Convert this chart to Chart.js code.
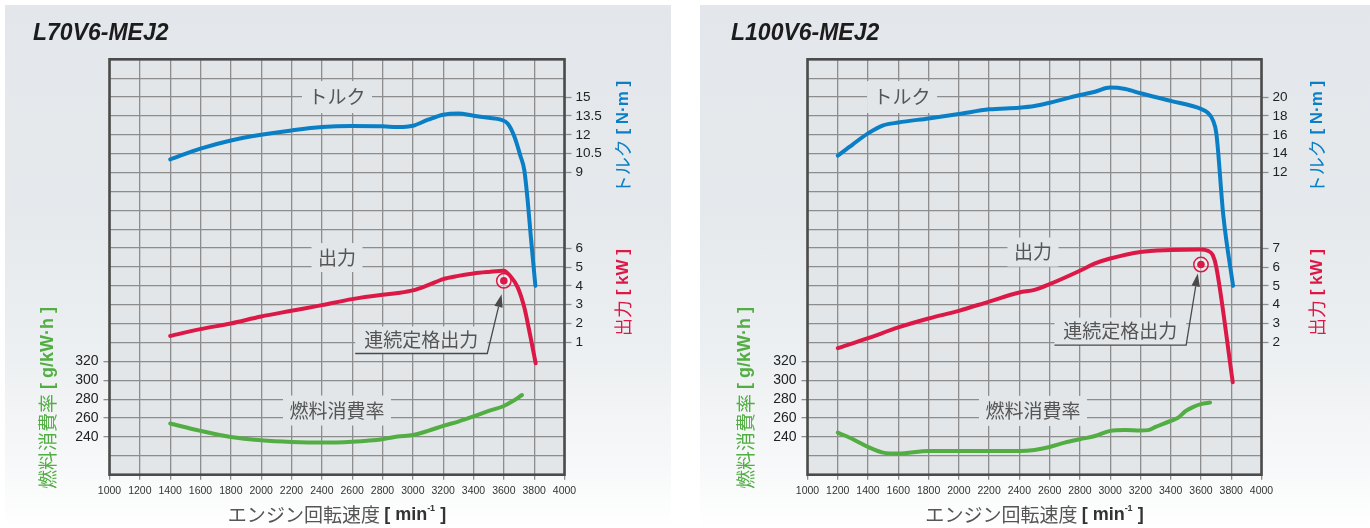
<!DOCTYPE html>
<html lang="ja">
<head>
<meta charset="utf-8">
<title>L70V6-MEJ2 / L100V6-MEJ2</title>
<script src="https://cdn.jsdelivr.net/npm/chart.js@4.4.1/dist/chart.umd.min.js"></script>
<style>
  html, body { margin:0; padding:0; background:#ffffff; }
  body { width:1370px; height:528px; position:relative; overflow:hidden; }
  .panel { position:absolute; top:5px; height:523px;
    background: linear-gradient(to bottom, #e3e7eb 0%, #e6e9ec 40%, #edf0f2 68%, #f7f8f9 88%, #ffffff 100%); }
  #panelA { left:5px; width:666px; }
  #panelB { left:700px; width:670px; }
  .chartbox { position:absolute; top:0; width:685px; height:528px; }
  #boxA { left:0; }
  #boxB { left:685px; }
</style>
</head>
<body>
<div class="panel" id="panelA"></div>
<div class="panel" id="panelB"></div>
<div class="chartbox" id="boxA"><canvas id="chartA" width="685" height="528"></canvas></div>
<div class="chartbox" id="boxB"><canvas id="chartB" width="685" height="528"></canvas></div>
<script>
// ---------------- data ----------------
const RPM_TICKS  = [1000,1200,1400,1600,1800,2000,2200,2400,2600,2800,3000,3200,3400,3600,3800,4000];
const FUEL_TICKS = [240,260,280,300,320];

// L70V6-MEJ2
const L70_TORQUE_RPM = [1400,1600,1800,2000,2200,2400,2600,2800,2900,3000,3100,3200,3300,3400,3500,3580,3625,3670,3710,3735,3757,3778,3808];
const L70_TORQUE_NM  = [10.05,10.9,11.55,12.0,12.35,12.62,12.7,12.68,12.62,12.72,13.2,13.6,13.7,13.52,13.35,13.2,12.9,11.85,10.3,9.2,6.8,3.9,0];
const L70_POWER_RPM  = [1400,1600,1800,2000,2200,2400,2600,2800,2900,3000,3100,3200,3300,3400,3500,3600,3646,3690,3734,3767,3810];
const L70_POWER_KW   = [1.35,1.71,2.01,2.38,2.68,2.98,3.3,3.53,3.62,3.76,4.04,4.36,4.53,4.66,4.74,4.8,4.48,3.95,2.89,1.65,-0.1];
const L70_FUEL_RPM   = [1400,1600,1800,2000,2200,2400,2600,2800,2900,3000,3100,3200,3300,3400,3500,3600,3660,3720];
const L70_FUEL_G     = [254.2,246.4,240,236.5,234.7,234,235,237.6,240.4,242.1,246.4,251.7,256.3,261.7,267.6,272.8,278,284.4];
const L70_RATED_RPM  = [3600];
const L70_RATED_KW   = [4.27];
const L70_TORQUE_TICKS = [9,10.5,12,13.5,15];
const L70_POWER_TICKS  = [1,2,3,4,5,6];

// L100V6-MEJ2
const L100_TORQUE_RPM = [1200,1300,1400,1500,1600,1800,2000,2200,2400,2500,2600,2800,2900,3000,3100,3200,3400,3600,3640,3680,3702,3748,3812];
const L100_TORQUE_NM  = [13.8,15.0,16.15,17.0,17.3,17.74,18.2,18.7,18.87,19.05,19.4,20.22,20.57,21.0,20.85,20.4,19.6,18.75,18.4,17.5,16.1,7.4,0];
const L100_POWER_RPM  = [1200,1400,1600,1800,2000,2200,2400,2500,2600,2800,2900,3000,3200,3400,3600,3645,3678,3701,3810];
const L100_POWER_KW   = [1.7,2.23,2.8,3.27,3.68,4.17,4.65,4.79,5.09,5.8,6.19,6.45,6.8,6.9,6.93,6.86,6.63,6.01,-0.1];
const L100_FUEL_RPM   = [1200,1300,1400,1500,1600,1800,2000,2200,2400,2500,2600,2700,2800,2900,3000,3100,3200,3250,3300,3400,3450,3500,3550,3600,3660];
const L100_FUEL_G     = [244.6,237.6,229.4,223.4,222.4,225.2,225,225,225,226.2,229.4,234,237.6,241,246.4,247.4,246.8,247.2,250.6,257,260.5,267.6,271.8,274.7,276.4];
const L100_RATED_RPM  = [3600];
const L100_RATED_KW   = [6.13];
const L100_TORQUE_TICKS = [12,14,16,18,20];
const L100_POWER_TICKS  = [2,3,4,5,6,7];

// ---------------- styles ----------------
const PLOT_BG = '#e2e6e9';
const GRID    = '#8d8d8d';
const FRAME   = '#4b4b4b';
const LABEL   = '#555555';
const BLUE    = '#0a7fc6';
const RED     = '#dc1847';
const GREEN   = '#52ae43';
const CJK = '"Noto Sans CJK JP", "Noto Sans", sans-serif';
const LAT = '"Liberation Sans", Arial, sans-serif';
const CANVAS_H = 528;

Chart.defaults.font.family = LAT;

const SPEC_A = {
  canvas: 'chartA', title: 'L70V6-MEJ2', titleX: 33,
  area: { left: 109.5, right: 564.5, top: 59.3, bottom: 474.7 },
  torque: { rpm: L70_TORQUE_RPM, val: L70_TORQUE_NM, min: -15, max: 18, step: 1.5, ticks: L70_TORQUE_TICKS },
  power:  { rpm: L70_POWER_RPM,  val: L70_POWER_KW,  min: -6,  max: 16, step: 1,   ticks: L70_POWER_TICKS },
  fuel:   { rpm: L70_FUEL_RPM,   val: L70_FUEL_G,    min: 200, max: 640, step: 20, ticks: FUEL_TICKS },
  rated:  { rpm: L70_RATED_RPM, kw: L70_RATED_KW },
  labels: { torque: [2500, 15], power: [2500, 5.5], fuel: [2500, 268] },
  callout: { text: '連続定格出力', tx: 3056, ty: 1.12, x0: 2620, x1: 3491, top: 1.85, line: 0.42, tipX: 3585, tipY: 3.56 },
  titles: { fuelX: 48, rightX: 623.5, torqueY: 137, powerY: 292.5, fuelY: 398, xY: 515 }
};
const SPEC_B = {
  canvas: 'chartB', title: 'L100V6-MEJ2', titleX: 46,
  area: { left: 122.5, right: 576.5, top: 59.3, bottom: 474.7 },
  torque: { rpm: L100_TORQUE_RPM, val: L100_TORQUE_NM, min: -20, max: 24, step: 2, ticks: L100_TORQUE_TICKS },
  power:  { rpm: L100_POWER_RPM,  val: L100_POWER_KW,  min: -5,  max: 17, step: 1, ticks: L100_POWER_TICKS },
  fuel:   { rpm: L100_FUEL_RPM,   val: L100_FUEL_G,    min: 200, max: 640, step: 20, ticks: FUEL_TICKS },
  rated:  { rpm: L100_RATED_RPM, kw: L100_RATED_KW },
  labels: { torque: [1625, 20], power: [2490, 6.79], fuel: [2490, 267.6] },
  callout: { text: '連続定格出力', tx: 3067, ty: 2.61, x0: 2632, x1: 3502, top: 3.32, line: 1.86, tipX: 3579, tipY: 5.66 },
  titles: { fuelX: 60.5, rightX: 632.4, torqueY: 137, powerY: 292.5, fuelY: 398, xY: 515 }
};

// ---------------- helpers ----------------
const pickLabel = (arr) => function (v) {
  const m = arr.find(a => Math.abs(a - v) < 1e-6);
  return m === undefined ? '' : String(m);
};
const tickColorIfLabel = (ctx) => (ctx.tick && ctx.tick.label) ? GRID : 'rgba(0,0,0,0)';
const pts = (xs, ys) => xs.map((x, i) => ({ x: x, y: ys[i] }));

function drawRich(ctx, parts, x, y, rot) {
  ctx.save();
  ctx.translate(x, y);
  ctx.rotate(rot);
  let total = 0;
  parts.forEach(p => { ctx.font = p.font; p.w = ctx.measureText(p.text).width; total += p.w; });
  let cx = -total / 2;
  ctx.textBaseline = 'middle';
  ctx.textAlign = 'left';
  parts.forEach(p => { ctx.font = p.font; ctx.fillStyle = p.color; ctx.fillText(p.text, cx, p.dy || 0); cx += p.w; });
  ctx.restore();
}

function boxLabel(ctx, text, x, y, padX, h) {
  ctx.save();
  ctx.font = '19px ' + CJK;
  const w = ctx.measureText(text).width;
  ctx.fillStyle = PLOT_BG;
  ctx.fillRect(x - w / 2 - padX, y - h / 2, w + 2 * padX, h);
  ctx.fillStyle = LABEL;
  ctx.textAlign = 'center';
  ctx.textBaseline = 'middle';
  ctx.fillText(text, x, y);
  ctx.restore();
}

function drawCallout(ctx, s, c) {
  const X = v => s.x.getPixelForValue(v), Y = v => s.yP.getPixelForValue(v);
  const x0 = X(c.x0), x1 = X(c.x1), yT = Y(c.top), yL = Y(c.line);
  ctx.save();
  ctx.fillStyle = PLOT_BG;
  ctx.fillRect(x0, yT, x1 - x0, yL - yT);
  ctx.font = '19px ' + CJK;
  ctx.fillStyle = LABEL;
  ctx.textAlign = 'center';
  ctx.textBaseline = 'middle';
  ctx.fillText(c.text, X(c.tx), Y(c.ty));
  const tx = X(c.tipX), ty = Y(c.tipY);
  const dx = tx - x1, dy = ty - yL, len = Math.hypot(dx, dy), ux = dx / len, uy = dy / len;
  const head = 13, half = 4.2;
  const bx = tx - ux * head, by = ty - uy * head;
  ctx.strokeStyle = '#4a4a4a';
  ctx.lineWidth = 1.3;
  ctx.beginPath();
  ctx.moveTo(x0, yL); ctx.lineTo(x1, yL); ctx.lineTo(bx, by);
  ctx.stroke();
  ctx.beginPath();
  ctx.moveTo(tx, ty);
  ctx.lineTo(bx - uy * half, by + ux * half);
  ctx.lineTo(bx + uy * half, by - ux * half);
  ctx.closePath();
  ctx.fillStyle = '#4a4a4a';
  ctx.fill();
  ctx.restore();
}

// power axis shares the torque axis column on the right
const shareRightColumn = {
  id: 'shareRightColumn',
  afterLayout(chart) {
    const t = chart.scales.yT, p = chart.scales.yP;
    p.left = t.left; p.right = t.right; p.width = t.width;
  }
};

function decor(spec) {
  return {
    id: 'decor',
    beforeDraw(chart) {
      const { ctx, chartArea: a } = chart;
      ctx.save();
      ctx.fillStyle = PLOT_BG;
      ctx.fillRect(a.left, a.top, a.right - a.left, a.bottom - a.top);
      ctx.restore();
    },
    beforeDatasetsDraw(chart) {
      const { ctx, chartArea: a, scales: s } = chart;
      const L = spec.labels;
      boxLabel(ctx, 'トルク', s.x.getPixelForValue(L.torque[0]), s.yT.getPixelForValue(L.torque[1]), 6.5, 32);
      boxLabel(ctx, '出力', s.x.getPixelForValue(L.power[0]), s.yP.getPixelForValue(L.power[1]), 6.5, 29);
      boxLabel(ctx, '燃料消費率', s.x.getPixelForValue(L.fuel[0]), s.yF.getPixelForValue(L.fuel[1]), 6.5, 30);
      drawCallout(ctx, s, spec.callout);
      ctx.save();
      ctx.strokeStyle = FRAME;
      ctx.lineWidth = 2.6;
      ctx.strokeRect(a.left, a.top, a.right - a.left, a.bottom - a.top);
      ctx.restore();
    },
    afterDraw(chart) {
      const { ctx, chartArea: a } = chart;
      const T = spec.titles;
      ctx.save();
      ctx.font = 'italic bold 23px ' + LAT;
      ctx.fillStyle = '#1c1c1c';
      ctx.textBaseline = 'middle';
      ctx.textAlign = 'left';
      ctx.fillText(spec.title, spec.titleX, 34);
      ctx.restore();
      drawRich(ctx, [
        { text: '燃料消費率', font: '19px ' + CJK, color: GREEN },
        { text: ' [ g/kW·h ]', font: 'bold 18px ' + LAT, color: GREEN }
      ], T.fuelX, T.fuelY, -Math.PI / 2);
      drawRich(ctx, [
        { text: 'トルク', font: '18px ' + CJK, color: BLUE },
        { text: ' [ N·m ]', font: 'bold 17px ' + LAT, color: BLUE }
      ], T.rightX, T.torqueY, -Math.PI / 2);
      drawRich(ctx, [
        { text: '出力', font: '18px ' + CJK, color: RED },
        { text: ' [ kW ]', font: 'bold 17px ' + LAT, color: RED }
      ], T.rightX, T.powerY, -Math.PI / 2);
      drawRich(ctx, [
        { text: 'エンジン回転速度 ', font: '19px ' + CJK, color: '#555' },
        { text: '[ min', font: 'bold 18px ' + LAT, color: '#333' },
        { text: '-1', font: 'bold 9px ' + LAT, color: '#333', dy: -6 },
        { text: ' ]', font: 'bold 18px ' + LAT, color: '#333' }
      ], (a.left + a.right) / 2, T.xY, 0);
    }
  };
}

function makeChart(spec) {
  const A = spec.area;
  const canvasW = 685;
  const lineDs = (label, rpm, val, axis, color) => ({
    type: 'line', label: label, data: pts(rpm, val), yAxisID: axis,
    borderColor: color, borderWidth: 4, pointRadius: 0, pointHoverRadius: 0,
    fill: false, cubicInterpolationMode: 'monotone', borderCapStyle: 'round', borderJoinStyle: 'round', order: 2
  });
  return new Chart(document.getElementById(spec.canvas), {
    type: 'line',
    data: {
      datasets: [
        { type: 'line', label: '連続定格出力', data: pts(spec.rated.rpm, spec.rated.kw), yAxisID: 'yP',
          showLine: false, pointRadius: 3.8, pointBackgroundColor: RED, pointBorderWidth: 0, order: 0 },
        { type: 'line', label: '連続定格出力 ring', data: pts(spec.rated.rpm, spec.rated.kw), yAxisID: 'yP',
          showLine: false, pointRadius: 7.2, pointBackgroundColor: 'rgba(255,255,255,0.35)', pointBorderColor: RED, pointBorderWidth: 1.5, order: 1 },
        lineDs('トルク', spec.torque.rpm, spec.torque.val, 'yT', BLUE),
        lineDs('出力', spec.power.rpm, spec.power.val, 'yP', RED),
        lineDs('燃料消費率', spec.fuel.rpm, spec.fuel.val, 'yF', GREEN)
      ]
    },
    options: {
      responsive: false,
      animation: false,
      events: [],
      layout: { padding: { top: A.top, left: 0, right: 0, bottom: 0 } },
      plugins: { legend: { display: false }, tooltip: { enabled: false }, title: { display: false } },
      scales: {
        x: {
          type: 'linear', position: 'bottom', min: 1000, max: 4000,
          ticks: { stepSize: 200, autoSkip: false, maxRotation: 0, minRotation: 0, padding: 5,
                   color: '#333', font: { family: LAT, size: 10.5 }, callback: pickLabel(RPM_TICKS) },
          grid: { color: GRID, lineWidth: 1.3, tickLength: 5, tickColor: GRID, tickWidth: 1.3 },
          border: { display: false },
          afterFit: (s) => { s.height = CANVAS_H - A.bottom; }
        },
        yF: {
          type: 'linear', position: 'left', min: spec.fuel.min, max: spec.fuel.max,
          ticks: { stepSize: spec.fuel.step, autoSkip: false, padding: 5, color: '#222',
                   font: { family: LAT, size: 14 }, callback: pickLabel(spec.fuel.ticks) },
          grid: { color: GRID, lineWidth: 1.3, tickLength: 6, tickColor: tickColorIfLabel, tickWidth: 1.3 },
          border: { display: false },
          afterFit: (s) => { s.width = A.left; }
        },
        yT: {
          type: 'linear', position: 'right', min: spec.torque.min, max: spec.torque.max,
          ticks: { stepSize: spec.torque.step, autoSkip: false, padding: 4, color: '#222',
                   font: { family: LAT, size: 13.5 }, callback: pickLabel(spec.torque.ticks) },
          grid: { drawOnChartArea: false, tickLength: 7, tickColor: tickColorIfLabel, tickWidth: 1.3 },
          border: { display: false },
          afterFit: (s) => { s.width = canvasW - A.right; }
        },
        yP: {
          type: 'linear', position: 'right', min: spec.power.min, max: spec.power.max,
          ticks: { stepSize: spec.power.step, autoSkip: false, padding: 4, color: '#222',
                   font: { family: LAT, size: 13.5 }, callback: pickLabel(spec.power.ticks) },
          grid: { drawOnChartArea: false, tickLength: 7, tickColor: tickColorIfLabel, tickWidth: 1.3 },
          border: { display: false },
          afterFit: (s) => { s.width = 0; }
        }
      }
    },
    plugins: [shareRightColumn, decor(spec)]
  });
}

makeChart(SPEC_A);
makeChart(SPEC_B);
</script>
</body>
</html>
